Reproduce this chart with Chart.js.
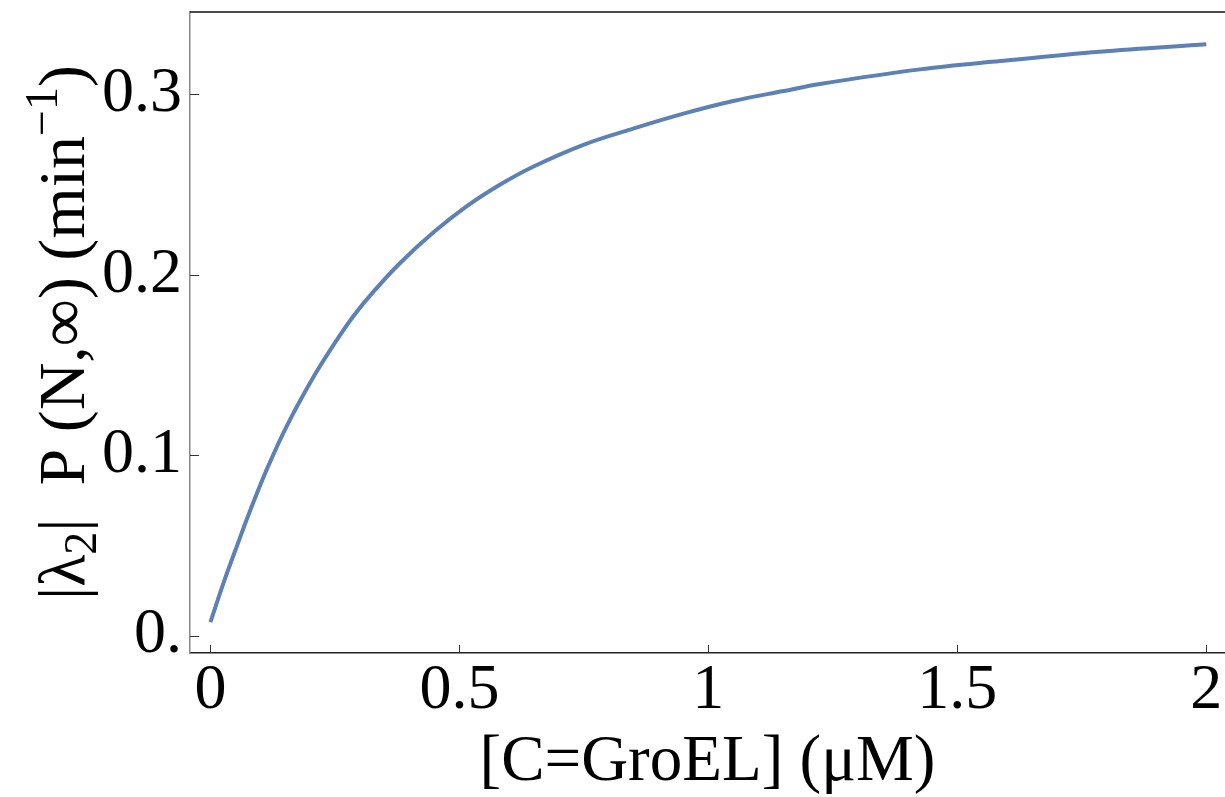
<!DOCTYPE html>
<html><head><meta charset="utf-8">
<script src="https://cdn.jsdelivr.net/npm/chart.js@4.4.0/dist/chart.umd.min.js"></script>
<style>html,body{margin:0;padding:0;background:#fff;overflow:hidden}#wrap{width:1225px;height:797px}</style>
</head><body><div id="wrap"><canvas id="c" width="1225" height="797"></canvas></div>
<script>
// ---- data ----
const concentration = [0, 0.026, 0.053, 0.080, 0.113, 0.153, 0.204, 0.247, 0.287, 0.327, 0.381, 0.448, 0.515, 0.582, 0.649, 0.749, 0.849, 0.950, 1.050, 1.151, 1.224, 1.425, 1.586, 1.786, 2.0];
const rate = [0.0075, 0.029, 0.0495, 0.0695, 0.092, 0.116, 0.142, 0.161, 0.177, 0.1905, 0.2065, 0.2235, 0.238, 0.250, 0.260, 0.272, 0.281, 0.2893, 0.2963, 0.3018, 0.3057, 0.3138, 0.3184, 0.3236, 0.3277];
const xTickValues = [0, 0.5, 1, 1.5, 2];
const xTickLabels = ['0', '0.5', '1', '1.5', '2'];
const yTickValues = [0, 0.1, 0.2, 0.3];
const yTickLabels = ['0.', '0.1', '0.2', '0.3'];
const xTitle = '[C=GroEL] (\u03BCM)';
const yTitleParts = [['|\u03BB', 'n'], ['2', 'sub'], ['|  P (N,\u221E) (min', 'n'], ['\u22121', 'sup'], [')', 'n']];

const FONT = '"Liberation Serif", "Times New Roman", serif';
const FS = 64;

const insideTicks = {
  id: 'insideTicks',
  afterDraw(chart) {
    const ctx = chart.ctx, a = chart.chartArea;
    const xs = chart.scales.x, ys = chart.scales.y;
    ctx.save();
    ctx.lineWidth = 1;
    ctx.strokeStyle = '#333';
    xTickValues.forEach(v => {
      const px = Math.round(xs.getPixelForValue(v)) + 0.5;
      ctx.beginPath(); ctx.moveTo(px, a.bottom); ctx.lineTo(px, a.bottom - 8); ctx.stroke();
    });
    yTickValues.forEach(v => {
      const py = Math.round(ys.getPixelForValue(v)) + 0.5;
      ctx.beginPath(); ctx.moveTo(a.left, py); ctx.lineTo(a.left + 9, py); ctx.stroke();
    });
    ctx.strokeStyle = '#111';
    ctx.lineWidth = 1.5;
    ctx.beginPath(); ctx.moveTo(a.left, a.top); ctx.lineTo(chart.width, a.top); ctx.stroke();
    const small = Math.round(FS * 0.72) + 'px ' + FONT;
    const bigT = 66 + 'px ' + FONT;
    let total = 0;
    yTitleParts.forEach(([t, k]) => { ctx.font = k === 'n' ? bigT : small; total += ctx.measureText(t).width; });
    ctx.translate(84, (a.top + a.bottom) / 2);
    ctx.rotate(-Math.PI / 2);
    ctx.fillStyle = '#000';
    ctx.textBaseline = 'alphabetic';
    let x = -total / 2;
    yTitleParts.forEach(([t, k]) => {
      ctx.font = k === 'n' ? bigT : small;
      const dy = k === 'sub' ? 12 : (k === 'sup' ? -27 : 0);
      ctx.fillText(t, x, dy);
      x += ctx.measureText(t).width;
    });
    ctx.restore();
  }
};

new Chart(document.getElementById('c'), {
  type: 'line',
  data: {
    datasets: [{
      data: concentration.map((x, i) => ({ x, y: rate[i] })),
      borderColor: '#5E81B5',
      borderWidth: 4,
      pointRadius: 0,
      tension: 0.35,
      fill: false
    }]
  },
  options: {
    responsive: false,
    animation: false,
    layout: { padding: { top: 12, right: 0, left: 0, bottom: 0 } },
    plugins: { legend: { display: false }, tooltip: { enabled: false } },
    scales: {
      x: {
        type: 'linear',
        min: -0.041, max: 2.0375,
        afterBuildTicks: s => { s.ticks = xTickValues.map(v => ({ value: v })); },
        afterFit: s => { s.height = 144; s.paddingLeft = 0; s.paddingRight = 0; },
        ticks: {
          autoSkip: false, maxRotation: 0, padding: 0,
          callback: (v, i) => xTickLabels[i],
          font: { family: FONT, size: FS }, color: '#000'
        },
        grid: { display: false, drawTicks: false },
        border: { display: true, color: '#222', width: 1.5 },
        title: { display: true, text: xTitle, font: { family: FONT, size: 65, lineHeight: 1.05 }, color: '#000', padding: { top: 0, bottom: 0 } }
      },
      y: {
        min: -0.0096, max: 0.3456,
        afterBuildTicks: s => { s.ticks = yTickValues.map(v => ({ value: v })); },
        afterFit: s => { s.width = 190; s.paddingTop = 0; s.paddingBottom = 0; },
        ticks: {
          autoSkip: false, padding: 8,
          callback: (v, i) => yTickLabels[i],
          font: { family: FONT, size: FS }, color: '#000'
        },
        grid: { display: false, drawTicks: false },
        border: { display: true, color: '#888', width: 1.5 }
      }
    }
  },
  plugins: [insideTicks]
});
</script>
</body></html>
